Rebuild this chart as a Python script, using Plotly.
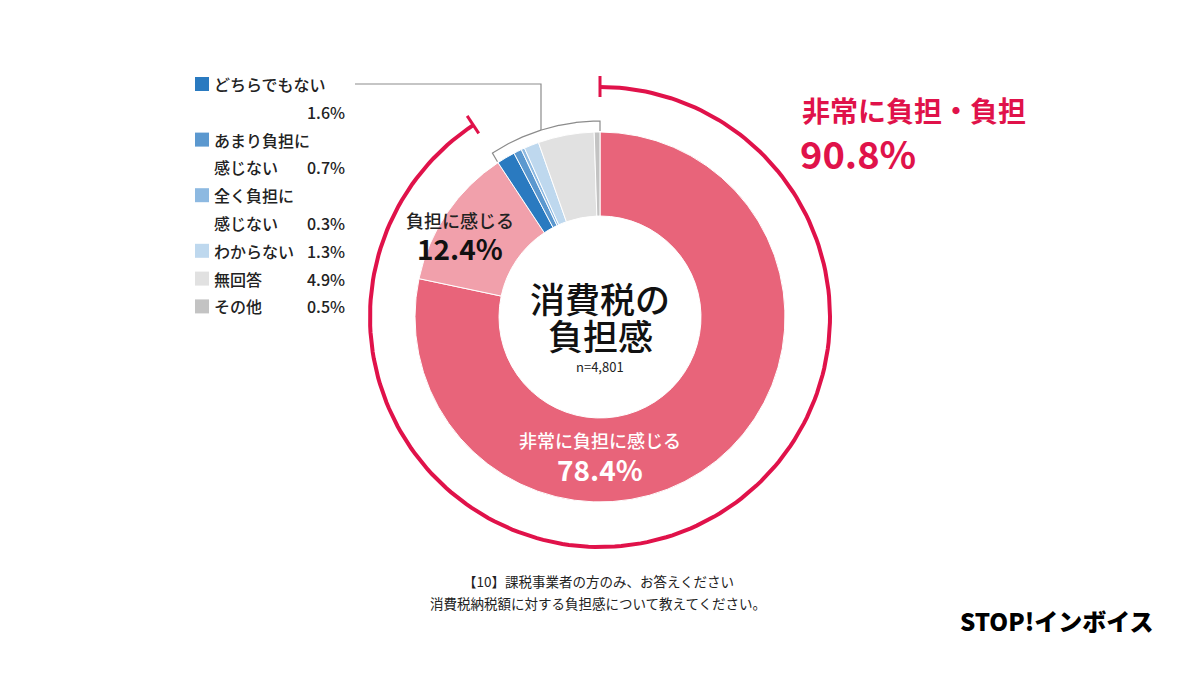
import math
import plotly.graph_objects as go

# data
categories = ["非常に負担に感じる", "負担に感じる", "どちらでもない", "あまり負担に感じない",
              "全く負担に感じない", "わからない", "無回答", "その他"]
values = [78.4, 12.4, 1.6, 0.7, 0.3, 1.3, 4.9, 0.5]
colors = ["#E8647A", "#F1A0AB", "#2A7AC0", "#5B98CF", "#8DB9E1", "#BED8EE", "#E1E1E1", "#C3C3C3"]
legend_first = ["どちらでもない", "あまり負担に", "全く負担に", "わからない", "無回答", "その他"]
legend_second = ["", "感じない", "感じない", "", "", ""]
burden_total = values[0] + values[1]
n_text = "n=4,801"

W, H = 1200, 675
CX, CY = 600, 317
R_OUT, R_IN = 185, 101
FONT = "Noto Sans CJK JP"
RED = "#E0124A"
MED = 500

total = sum(values)


def polar(r, frac):
    a = 2 * math.pi * frac
    return CX + r * math.sin(a), CY - r * math.cos(a)


def arc(r, f0, f1, steps=200):
    xs, ys = [], []
    for i in range(steps + 1):
        x, y = polar(r, f0 + (f1 - f0) * i / steps)
        xs.append(x)
        ys.append(y)
    return xs, ys


fig = go.Figure()

# donut
fig.add_trace(go.Pie(
    labels=categories, values=values, sort=False, direction="clockwise", rotation=0,
    hole=R_IN / R_OUT, textinfo="none", showlegend=False,
    marker=dict(colors=colors, line=dict(color="white", width=1)),
    domain=dict(x=[(CX - R_OUT) / W, (CX + R_OUT) / W],
                y=[(H - CY - R_OUT) / H, (H - CY + R_OUT) / H]),
))

# red arc for 非常に負担 + 負担
red_end = (values[0] + values[1]) / total
ax_, ay_ = arc(230, 0, red_end)
fig.add_trace(go.Scatter(x=ax_, y=ay_, mode="lines", line=dict(color=RED, width=4),
                         hoverinfo="skip", showlegend=False))
for f in (0, red_end):
    x0, y0 = polar(220, f)
    x1, y1 = polar(241, f)
    fig.add_trace(go.Scatter(x=[x0, x1], y=[y0, y1], mode="lines",
                             line=dict(color=RED, width=3), hoverinfo="skip", showlegend=False))

# gray bracket around the small slices
bx, by = arc(196, red_end, 1.0)
sx0, sy0 = polar(186, red_end)
ex0, ey0 = polar(186, 1.0)
fig.add_trace(go.Scatter(x=[sx0] + bx + [ex0], y=[sy0] + by + [ey0], mode="lines",
                         line=dict(color="#8C8C8C", width=1.2), hoverinfo="skip", showlegend=False))
# connector to legend
conn_x = 541
conn_y = CY - math.sqrt(196 ** 2 - (CX - conn_x) ** 2)
fig.add_trace(go.Scatter(x=[355, conn_x, conn_x], y=[84, 84, conn_y], mode="lines",
                         line=dict(color="#8C8C8C", width=1.2), hoverinfo="skip", showlegend=False))

# legend
row_y = [84 + 27.8 * k for k in range(9)]
first_rows = [0, 2, 4, 6, 7, 8]
value_rows = [1, 3, 5, 6, 7, 8]
fig.add_trace(go.Scatter(x=[202] * 6, y=[row_y[r] for r in first_rows], mode="markers",
                         marker=dict(symbol="square", size=14, color=colors[2:]),
                         hoverinfo="skip", showlegend=False))

ann = []
for i in range(6):
    ann.append(dict(x=212, y=row_y[first_rows[i]], text=legend_first[i], xanchor="left",
                    font=dict(size=16, color="#222", weight=MED)))
    if legend_second[i]:
        ann.append(dict(x=212, y=row_y[first_rows[i] + 1], text=legend_second[i], xanchor="left",
                        font=dict(size=16, color="#222", weight=MED)))
    ann.append(dict(x=347, y=row_y[value_rows[i]], text=f"{values[i + 2]}%", xanchor="right",
                    font=dict(size=16, color="#222", weight=MED)))

# slice labels and texts
ann += [
    dict(x=460, y=220, text=categories[1], font=dict(size=18, color="#222", weight=MED)),
    dict(x=460, y=248, text=f"{values[1]}%", font=dict(size=28, color="#111", weight="bold")),
    dict(x=600, y=440, text=categories[0], font=dict(size=18, color="white", weight=MED)),
    dict(x=600, y=469, text=f"{values[0]}%", font=dict(size=28, color="white", weight="bold")),
    dict(x=600, y=297, text="消費税の", font=dict(size=35, color="#111", weight=MED)),
    dict(x=600, y=334, text="負担感", font=dict(size=35, color="#111", weight=MED)),
    dict(x=600, y=366, text=n_text, font=dict(size=13, color="#222")),
    dict(x=800, y=110, text="非常に負担・負担", xanchor="left", font=dict(size=28, color=RED, weight="bold")),
    dict(x=798, y=152, text=f"{burden_total:.1f}%", xanchor="left", font=dict(size=38, color=RED, weight="bold")),
    dict(x=598, y=581, text="【10】課税事業者の方のみ、お答えください", font=dict(size=13.5, color="#222")),
    dict(x=598, y=603, text="消費税納税額に対する負担感について教えてください。", font=dict(size=13.5, color="#222")),
    dict(x=1057, y=620, text="STOP!インボイス", font=dict(size=24, color="#000", weight=900)),
]
for a in ann:
    a.update(xref="x", yref="y", showarrow=False)
    a.setdefault("yanchor", "middle")

fig.update_layout(
    width=W, height=H, margin=dict(l=0, r=0, t=0, b=0),
    paper_bgcolor="white", plot_bgcolor="white",
    font=dict(family=FONT),
    xaxis=dict(range=[0, W], visible=False, fixedrange=True),
    yaxis=dict(range=[H, 0], visible=False, fixedrange=True),
    annotations=ann,
    showlegend=False,
)

# the page body has a default 8px margin; drop it so the figure sits at 0,0
fig.write_html("out.html", config={"displayModeBar": False},
               post_script="document.body.style.margin='0';")
